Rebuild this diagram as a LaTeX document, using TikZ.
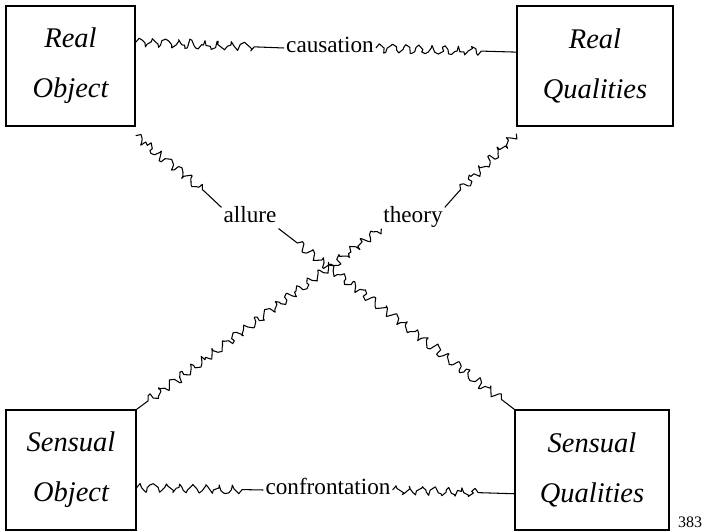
\documentclass[tikz,border=0pt]{standalone}
\usepackage{fontspec}
\setmainfont{Liberation Serif}
\usetikzlibrary{calc, decorations.pathmorphing}

\tikzset{
  realm/.style={draw, line width=.8pt, align=center, minimum height=2.4cm,
    font=\fontsize{16.2}{28.5}\selectfont\itshape},
  tie/.style={font=\fontsize{13.2}{14}\selectfont, inner sep=1pt,
    text height=1.6ex, text depth=.5ex},
  squig/.style={line width=.6pt, line join=round},
  zig/.style={decoration={zigzag, segment length=7.5pt, amplitude=2.4pt}},
  jit/.style={decoration={random steps, segment length=2.4pt, amplitude=1.3pt}},
}

\begin{document}
\begin{tikzpicture}
\pgfmathsetseed{383}
\useasboundingbox (0,0) rectangle (14.14,10.62);
% boxes
\node[realm, minimum width=2.58cm] (ro) at (1.41,9.30) {Real\\Object};
\node[realm, minimum width=3.12cm] (rq) at (11.90,9.30) {Real\\Qualities};
\node[realm, minimum width=2.6cm] (so) at (1.42,1.22) {Sensual\\Object};
\node[realm, minimum width=3.08cm] (sq) at (11.84,1.22) {Sensual\\Qualities};
% labels
\node[tie] (caus) at (6.6,9.66) {causation};
\node[tie] (conf) at (6.56,0.82) {confrontation};
\node[tie] (allure) at (5.0,6.26) {allure};
\node[tie] (theory) at (8.26,6.26) {theory};
\node[font=\fontsize{9.1}{10}\selectfont] (page) at (13.8,0.18) {383};
% ties
\draw[squig] (ro.20) decorate[jit] {decorate[zig] {-- ($(ro.20)!.82!(caus.west)$)}} -- (caus.west);
\draw[squig] (caus.east) decorate[jit] {decorate[zig] {-- ($(caus.east)!.78!(rq.170)$)}} -- (rq.170);
\draw[squig] (so.-15) decorate[jit] {decorate[zig] {-- ($(so.-15)!.85!(conf.west)$)}} -- (conf.west);
\draw[squig] (conf.east) decorate[jit] {decorate[zig] {-- ($(conf.east)!.72!(sq.197)$)}} -- (sq.197);
\draw[squig] ([yshift=-.18cm]ro.south east) decorate[jit] {decorate[zig] {-- ($(ro.south east)!.8!(allure.north west)$)}} -- (allure.north west);
\draw[squig] (allure.south east) -- ($(allure.south east)!.08!(sq.north west)$)
  decorate[jit] {decorate[zig] {-- ($(allure.south east)!.96!(sq.north west)$)}} -- (sq.north west);
\draw[squig] ([yshift=-.14cm]rq.south west) decorate[jit] {decorate[zig] {-- ($(rq.south west)!.8!(theory.north east)$)}} -- (theory.north east);
\draw[squig] (theory.south west) decorate[jit] {decorate[zig] {-- ($(theory.south west)!.96!(so.north east)$)}} -- (so.north east);
\end{tikzpicture}
\end{document}
